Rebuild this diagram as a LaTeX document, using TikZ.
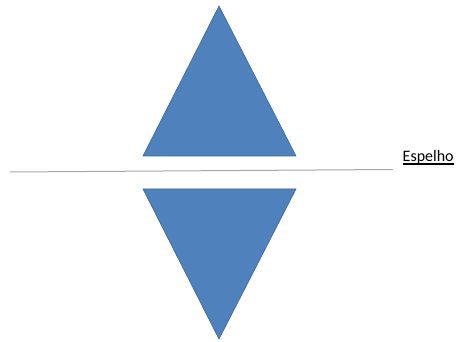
\documentclass[tikz,border=0pt]{standalone}
\usepackage{fontspec}
\setmainfont{Carlito}
\definecolor{triFill}{HTML}{4F81BD}
\definecolor{triEdge}{HTML}{3A6596}
\definecolor{mirrorLine}{HTML}{A6A6A6}
\tikzset{
  tri/.style={fill=triFill, draw=triEdge, line width=0.6pt, line join=miter},
  mirror/.style={draw=mirrorLine, line width=1pt},
  lbl/.style={font=\fontsize{16}{18}\selectfont, inner sep=0pt, anchor=base west}
}
\begin{document}
\begin{tikzpicture}[x=1pt,y=-1pt]
\useasboundingbox (0,0) rectangle (458,342);
\coordinate (ua) at (219,6);
\coordinate (ul) at (143,156);
\coordinate (ur) at (296,156);
\coordinate (dl) at (143,189);
\coordinate (dr) at (296,189);
\coordinate (da) at (219,339);
\draw[tri] (ua) -- (ur) -- (ul) -- cycle;
\draw[tri] (dl) -- (dr) -- (da) -- cycle;
\coordinate (ml) at (10,172);
\coordinate (mr) at (393,169.5);
\draw[mirror] (ml) -- (mr);
\node[lbl] (esp) at (402.5,161) {Espelho};
\draw[line width=1.1pt] ([yshift=-3pt]esp.base west) -- ([yshift=-3pt]esp.base east);
\end{tikzpicture}
\end{document}
